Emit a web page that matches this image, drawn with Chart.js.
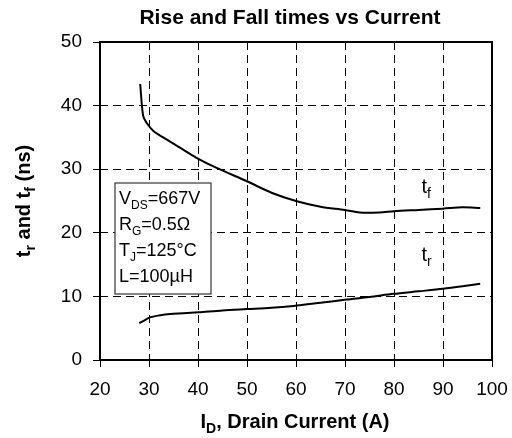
<!DOCTYPE html>
<html>
<head>
<meta charset="utf-8">
<script src="https://cdn.jsdelivr.net/npm/chart.js@4"></script>
<style>
  html, body { margin: 0; padding: 0; background: #fff; }
  #wrap { width: 512px; height: 438px; }
</style>
</head>
<body>
<div id="wrap"><canvas id="riseFall" width="512" height="438"></canvas></div>
<script>
// drain current (A) and times (ns)
const tfCurrent = [28.2, 28.8, 29.5, 30.9, 32.9, 36.3, 39.7, 43.8, 50, 55, 60, 65, 70, 73, 77, 80, 85, 90, 94, 97.6];
const tfTime    = [43.4, 38.4, 37.3, 36, 35, 33.4, 31.8, 30.2, 28.1, 26.3, 25, 24.1, 23.6, 23.2, 23.2, 23.4, 23.6, 23.8, 24, 23.9];
const trCurrent = [28, 29, 30.2, 32, 34.3, 37, 40.1, 45, 49.9, 55, 59.5, 65, 70.3, 75, 79.9, 85, 90, 94, 97.6];
const trTime    = [5.8, 6.2, 6.7, 7.0, 7.25, 7.35, 7.5, 7.8, 8.0, 8.2, 8.5, 9.0, 9.5, 9.9, 10.4, 10.8, 11.2, 11.6, 12.0];
const xTicks = [20, 30, 40, 50, 60, 70, 80, 90, 100];
const yTicks = [0, 10, 20, 30, 40, 50];
const noteLines = [
  [['V', ''], ['DS', 'sub'], ['=667V', '']],
  [['R', ''], ['G', 'sub'], ['=0.5Ω', '']],
  [['T', ''], ['J', 'sub'], ['=125°C', '']],
  [['L=100µH', '']]
];

const FONT = '"Liberation Sans", Arial, sans-serif';

function toPoints(xs, ys) {
  return xs.map((x, i) => ({ x: x, y: ys[i] }));
}

// draw text made of pieces, some subscripted
function drawRich(ctx, parts, x, y, size, bold, align) {
  const w = bold ? 'bold ' : '';
  const subSize = Math.round(size * 0.68);
  let total = 0;
  parts.forEach(p => {
    ctx.font = w + (p[1] ? subSize : size) + 'px ' + FONT;
    total += ctx.measureText(p[0]).width;
  });
  let cx = align === 'center' ? x - total / 2 : x;
  ctx.textAlign = 'left';
  ctx.textBaseline = 'alphabetic';
  parts.forEach(p => {
    ctx.font = w + (p[1] ? subSize : size) + 'px ' + FONT;
    ctx.fillText(p[0], cx, p[1] ? y + size * 0.25 : y);
    cx += ctx.measureText(p[0]).width;
  });
}

const extras = {
  id: 'extras',
  afterDraw(chart) {
    const ctx = chart.ctx;
    const a = chart.chartArea;
    const xs = chart.scales.x, ys = chart.scales.y;
    ctx.save();
    ctx.fillStyle = '#000';
    ctx.strokeStyle = '#000';

    // frame
    ctx.lineWidth = 2;
    ctx.strokeRect(a.left, a.top, a.right - a.left, a.bottom - a.top);

    // title
    drawRich(ctx, [['Rise and Fall times vs Current', '']], 290, 24, 21, true, 'center');

    // x title
    drawRich(ctx, [['I', ''], ['D', 'sub'], [', Drain Current (A)', '']], 295, 428, 20, true, 'center');

    // y title
    ctx.save();
    ctx.translate(30, (a.top + a.bottom) / 2);
    ctx.rotate(-Math.PI / 2);
    drawRich(ctx, [['t', ''], ['r', 'sub'], [' and t', ''], ['f', 'sub'], [' (ns)', '']], 0, 0, 20, true, 'center');
    ctx.restore();

    // condition box
    ctx.lineWidth = 1.3;
    ctx.strokeStyle = '#444';
    ctx.fillStyle = '#fff';
    ctx.fillRect(115, 183, 96, 111);
    ctx.strokeRect(115, 183, 96, 111);
    ctx.fillStyle = '#000';
    noteLines.forEach((line, i) => {
      drawRich(ctx, line, 119, 204 + i * 26, 18, false, 'left');
    });

    // curve labels
    drawRich(ctx, [['t', ''], ['f', 'sub']], xs.getPixelForValue(85.6), ys.getPixelForValue(26.3), 20, false, 'left');
    drawRich(ctx, [['t', ''], ['r', 'sub']], xs.getPixelForValue(85.6), ys.getPixelForValue(15.5), 20, false, 'left');
    ctx.restore();
  }
};

const lineOpts = { borderColor: '#000', borderWidth: 2, pointRadius: 0, tension: 0.3, fill: false };

new Chart(document.getElementById('riseFall'), {
  type: 'scatter',
  data: {
    datasets: [
      Object.assign({ label: 'tf', data: toPoints(tfCurrent, tfTime), showLine: true }, lineOpts),
      Object.assign({ label: 'tr', data: toPoints(trCurrent, trTime), showLine: true }, lineOpts)
    ]
  },
  options: {
    responsive: false,
    animation: false,
    devicePixelRatio: 1,
    layout: { padding: { left: 0, right: 20, top: 42, bottom: 0 } },
    plugins: { legend: { display: false }, tooltip: { enabled: false } },
    scales: {
      x: {
        type: 'linear', min: 20, max: 100,
        afterBuildTicks: s => { s.ticks = xTicks.map(v => ({ value: v })); },
        afterFit: s => { s.height = 78; s.paddingLeft = 0; s.paddingRight = 0; },
        grid: { color: '#000', lineWidth: 1, tickLength: 7, tickColor: '#000', tickBorderDash: [] },
        border: { display: false, dash: [8, 5] },
        ticks: { color: '#000', font: { family: FONT, size: 19 }, padding: 11, maxRotation: 0 }
      },
      y: {
        min: 0, max: 50,
        afterBuildTicks: s => { s.ticks = yTicks.map(v => ({ value: v })); },
        afterFit: s => { s.width = 100; s.paddingTop = 0; s.paddingBottom = 0; },
        grid: { color: '#000', lineWidth: 1, tickLength: 7, tickColor: '#000', tickBorderDash: [] },
        border: { display: false, dash: [8, 5] },
        ticks: { color: '#000', font: { family: FONT, size: 19 }, padding: 11 }
      }
    }
  },
  plugins: [extras]
});
</script>
</body>
</html>
